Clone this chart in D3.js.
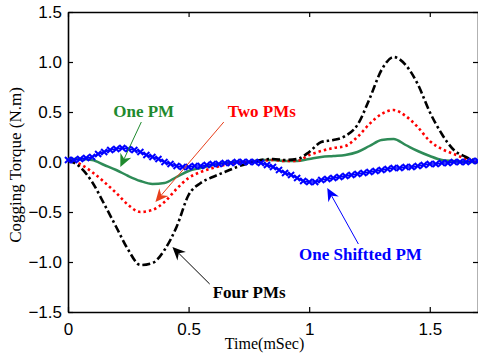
<!DOCTYPE html>
<html>
<head>
<meta charset="utf-8">
<script src="https://cdn.jsdelivr.net/npm/d3@7"></script>
<style>
  body { margin: 0; background: #fff; }
  .tick text { font-family: "Liberation Sans", Arial, sans-serif; font-size: 17px; }
  .axisLabel { font-family: "Liberation Serif", "Times New Roman", serif; font-size: 17px; }
  .note { font-family: "Liberation Serif", "Times New Roman", serif; font-size: 17px; font-weight: bold; }
</style>
</head>
<body>
<svg class="chart"></svg>
<script>
// time axis (ms) shared by the three solid-rotor curves
var timeMs = [0, 0.05, 0.1, 0.15, 0.2, 0.25, 0.3, 0.35, 0.4, 0.45, 0.5, 0.55, 0.6, 0.65, 0.7,
  0.75, 0.8, 0.85, 0.9, 0.95, 1.0, 1.05, 1.1, 1.15, 1.2, 1.25, 1.3, 1.35, 1.4, 1.45, 1.5,
  1.55, 1.6, 1.65, 1.7];

var fourPMs = [0.02, -0.05, -0.20, -0.42, -0.65, -0.88, -1.03, -1.01, -0.88, -0.65, -0.33,
  -0.21, -0.15, -0.10, -0.05, -0.01, 0.02, 0.03, 0.02, 0.03, 0.10, 0.20, 0.22, 0.26, 0.37,
  0.63, 0.92, 1.05, 0.97, 0.78, 0.50, 0.28, 0.12, 0.05, 0.0];

var twoPMs = [0.02, -0.02, -0.10, -0.20, -0.31, -0.43, -0.50, -0.48, -0.40, -0.27, -0.16,
  -0.10, -0.06, -0.03, -0.01, 0.0, 0.01, 0.02, 0.01, 0.01, 0.07, 0.11, 0.14, 0.16, 0.25,
  0.38, 0.48, 0.52, 0.46, 0.35, 0.21, 0.13, 0.08, 0.03, -0.01];

var onePM = [0.03, 0.03, 0.02, -0.03, -0.08, -0.14, -0.19, -0.22, -0.21, -0.15, -0.09,
  -0.06, -0.03, -0.01, 0.0, 0.0, 0.02, 0.02, 0.01, 0.01, 0.03, 0.05, 0.06, 0.07, 0.10,
  0.16, 0.22, 0.23, 0.17, 0.11, 0.06, 0.02, 0.01, 0.0, 0.0];

// shifted PM curve is sampled finer (one marker per sample)
var shiftTime = d3.range(0, 69).map(function(i) { return +(i * 0.025).toFixed(3); });
var oneShifted = [0.02, 0.02, 0.03, 0.04, 0.05, 0.08, 0.10, 0.12, 0.13, 0.14, 0.13, 0.12,
  0.10, 0.07, 0.05, 0.03, 0.00, -0.02, -0.04, -0.05, -0.05, -0.04, -0.04, -0.03, -0.02,
  -0.02, -0.01, -0.01, 0.0, 0.0, 0.0, 0.0, -0.01, -0.03, -0.05, -0.08, -0.11, -0.13, -0.16,
  -0.19, -0.20, -0.20, -0.18, -0.17, -0.16, -0.15, -0.14, -0.13, -0.12, -0.11, -0.10,
  -0.09, -0.08, -0.07, -0.06, -0.06, -0.05, -0.05, -0.04, -0.03, -0.02, -0.02, -0.01,
  -0.01, 0.0, 0.0, 0.0, 0.01, 0.01];

var xTicks = [0, 0.5, 1, 1.5];
var yTicks = [-1.5, -1.0, -0.5, 0.0, 0.5, 1.0, 1.5];

// annotations in data units: label position and arrow tail -> tip
var notes = [
  { text: "One PM",          color: "#1f8a2e", lx: 0.1875, ly: 0.45,  from: [0.304, 0.40],  to: [0.217, -0.05] },
  { text: "Two PMs",         color: "#ff0000", lx: 0.6625, ly: 0.45,  from: [0.646, 0.40],  to: [0.3625, -0.40], arrowColor: "#e8401c" },
  { text: "One Shiftted PM", color: "#0000ff", lx: 0.958,  ly: -0.98, from: [1.204, -0.82], to: [1.075, -0.26] },
  { text: "Four PMs",        color: "#000000", lx: 0.60,   ly: -1.36, from: [0.5875, -1.22], to: [0.433, -0.85] }
];

var width = 478, height = 356;
var margin = { left: 68, top: 12, right: 0, bottom: 44 };
var chartWidth = width - margin.left - margin.right;
var chartHeight = height - margin.top - margin.bottom;

var svg = d3.select(".chart").attr("width", width).attr("height", height);
var chart = svg.append("g").attr("transform", "translate(" + margin.left + "," + margin.top + ")");

var x = d3.scaleLinear().domain([0, 1.7]).range([0, chartWidth]);
var y = d3.scaleLinear().domain([-1.5, 1.5]).range([chartHeight, 0]);

// axes with inward ticks (matlab style)
chart.append("g")
  .attr("transform", "translate(0," + chartHeight + ")")
  .call(d3.axisBottom(x).tickValues(xTicks).tickSizeInner(-5).tickSizeOuter(0).tickPadding(11)
    .tickFormat(function(d) { return d === 0 ? "0" : d3.format("~g")(d); }));
chart.append("g")
  .call(d3.axisTop(x).tickValues(xTicks).tickSizeInner(-5).tickSizeOuter(0).tickFormat(""));
chart.append("g")
  .call(d3.axisLeft(y).tickValues(yTicks).tickSizeInner(-5).tickSizeOuter(0).tickPadding(6)
    .tickFormat(d3.format(".1f")));
chart.append("g")
  .attr("transform", "translate(" + chartWidth + ",0)")
  .call(d3.axisRight(y).tickValues(yTicks).tickSizeInner(-5).tickSizeOuter(0).tickFormat(""));

chart.selectAll(".domain").attr("stroke", "#000").attr("stroke-width", 1.6);
chart.selectAll(".tick line").attr("stroke", "#000").attr("stroke-width", 1.2);
chart.selectAll(".tick text").attr("fill", "#000");

//axis labels
svg.append("text")
  .attr("class", "axisLabel")
  .attr("transform", "translate(" + 21 + "," + (margin.top + y(0) + 3) + ") rotate(-90)")
  .attr("text-anchor", "middle")
  .text("Cogging Torque (N.m)");
svg.append("text")
  .attr("class", "axisLabel")
  .attr("x", margin.left + x(0.815))
  .attr("y", 349)
  .attr("text-anchor", "middle")
  .style("font-size", "16px")
  .text("Time(mSec)");

var line = d3.line()
  .x(function(d) { return x(d[0]); })
  .y(function(d) { return y(d[1]); })
  .curve(d3.curveMonotoneX);

function pairs(t, v) { return t.map(function(d, i) { return [d, v[i]]; }); }

chart.append("path").datum(pairs(timeMs, onePM))
  .attr("fill", "none").attr("stroke", "#2e8b57").attr("stroke-width", 2.5)
  .attr("d", line);

chart.append("path").datum(pairs(timeMs, twoPMs))
  .attr("fill", "none").attr("stroke", "#ff0000").attr("stroke-width", 2.6)
  .attr("stroke-dasharray", "2.5,3")
  .attr("d", line);

chart.append("path").datum(pairs(timeMs, fourPMs))
  .attr("fill", "none").attr("stroke", "#000").attr("stroke-width", 2.6)
  .attr("stroke-dasharray", "8,3,2.5,3")
  .attr("d", line);

var shifted = pairs(shiftTime, oneShifted);
chart.append("path").datum(shifted)
  .attr("fill", "none").attr("stroke", "#0000ff").attr("stroke-width", 1.6)
  .attr("d", line);

var s = 3;
chart.append("g").selectAll("path.mark")
  .data(shifted)
  .enter().append("path")
  .attr("class", "mark")
  .attr("d", function(d) {
    var cx = x(d[0]), cy = y(d[1]);
    return "M" + (cx - s) + "," + (cy - s) + "L" + (cx + s) + "," + (cy + s) +
           "M" + (cx - s) + "," + (cy + s) + "L" + (cx + s) + "," + (cy - s);
  })
  .attr("stroke", "#0000ff").attr("stroke-width", 2);

// annotations
var notesG = chart.append("g");
notes.forEach(function(n) {
  var c = n.arrowColor || n.color;
  var x1 = x(n.from[0]), y1 = y(n.from[1]), x2 = x(n.to[0]), y2 = y(n.to[1]);
  var ang = Math.atan2(y2 - y1, x2 - x1);
  var len = 13, half = 6, back = 9;
  var bx = x2 - Math.cos(ang) * len, by = y2 - Math.sin(ang) * len;
  var nx = -Math.sin(ang), ny = Math.cos(ang);
  var mx = x2 - Math.cos(ang) * back, my = y2 - Math.sin(ang) * back;
  notesG.append("line")
    .attr("x1", x1).attr("y1", y1).attr("x2", mx).attr("y2", my)
    .attr("stroke", c).attr("stroke-width", 1);
  notesG.append("path")
    .attr("d", "M" + x2 + "," + y2 +
      "L" + (bx + nx * half) + "," + (by + ny * half) +
      "L" + mx + "," + my +
      "L" + (bx - nx * half) + "," + (by - ny * half) + "Z")
    .attr("fill", c);
  notesG.append("text")
    .attr("class", "note")
    .attr("x", x(n.lx)).attr("y", y(n.ly))
    .attr("fill", n.color)
    .text(n.text);
});
</script>
</body>
</html>
